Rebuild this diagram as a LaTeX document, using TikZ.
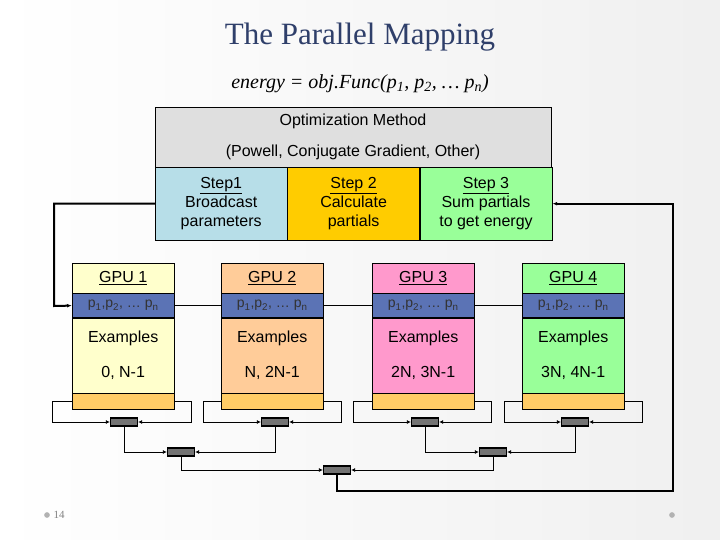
\documentclass[tikz,border=0pt]{standalone}
\usepackage{fontspec}
\setmainfont{Liberation Sans}
\newfontfamily\titlefont{Liberation Serif}
\usetikzlibrary{positioning,arrows.meta}
\definecolor{titleblue}{HTML}{2F3F6A}
\definecolor{stepblue}{HTML}{B7DEE8}
\definecolor{steporange}{HTML}{FFCC00}
\definecolor{stepgreen}{HTML}{99FF99}
\definecolor{parblue}{HTML}{5B73B5}
\definecolor{gpuyellow}{HTML}{FFFFCC}
\definecolor{gpuorange}{HTML}{FFCC99}
\definecolor{gpupink}{HTML}{FF99CC}
\definecolor{gpugreen}{HTML}{99FF99}
\definecolor{rowbottom}{HTML}{FFCC66}
\tikzset{cell/.style={draw,inner sep=0pt,align=center,font=\fontsize{16}{19}\selectfont},
         switch/.style={draw,very thick,fill=gray!90!black,minimum width=27pt,minimum height=8pt,inner sep=0pt},
         wire/.style={thick,-{Latex[length=4pt,width=4pt]}},
         bus/.style={line width=2pt},
         }
\newcommand{\plist}{p\textsubscript{1},p\textsubscript{2}, \dots\ p\textsubscript{n}}
\begin{document}
\begin{tikzpicture}[x=1pt,y=-1pt]
\useasboundingbox[left color=white,right color=gray!12] (0,0) rectangle (720,540);
\node[font=\titlefont\fontsize{31}{34}\selectfont,text=titleblue] (title) at (360,37) {The Parallel Mapping};
\node[font=\titlefont\itshape\fontsize{20}{22}\selectfont] (func) at (360,84)
  {energy = obj.Func(p\textsubscript{1}, p\textsubscript{2}, \dots\ p\textsubscript{n})};
% optimization method
\node[cell,fill=gray!25,minimum width=396pt,minimum height=60pt] (opt) at (353,137)
  {Optimization Method\\[12pt](Powell, Conjugate Gradient, Other)};
\node[cell,fill=stepblue,minimum width=132pt,minimum height=73pt,anchor=north west] (step1) at (155,167)
  {\underline{Step1}\\Broadcast\\parameters};
\node[cell,fill=steporange,minimum width=132pt,minimum height=73pt,right=0pt of step1] (step2)
  {\underline{Step 2}\\Calculate\\partials};
\node[cell,fill=stepgreen,minimum width=132pt,minimum height=73pt,right=0pt of step2] (step3)
  {\underline{Step 3}\\Sum partials\\to get energy};
% gpus
\foreach \i/\x/\col/\ex in {1/72/gpuyellow/{0, N-1},2/221/gpuorange/{N, 2N-1},3/372/gpupink/{2N, 3N-1},4/522/gpugreen/{3N, 4N-1}}{
  \node[cell,fill=\col,minimum width=102pt,minimum height=30pt,anchor=north west] (gpu\i) at (\x,263) {\underline{GPU \i}};
  \node[cell,fill=parblue,minimum width=102pt,minimum height=24pt,below=0pt of gpu\i,font=\fontsize{14}{16}\selectfont,text=black!80] (par\i) {\plist};
  \node[cell,fill=\col,minimum width=102pt,minimum height=75pt,below=0pt of par\i] (ex\i) {Examples\\[16pt]\ex};
  \node[cell,fill=rowbottom,minimum width=102pt,minimum height=16pt,below=0pt of ex\i] (bot\i) {};
}
% switches
\node[switch] (sw1) at (124,422) {};
\node[switch] (sw2) at (275,422) {};
\node[switch] (sw3) at (425,422) {};
\node[switch] (sw4) at (575,422) {};
\node[switch] (swA) at (181,452) {};
\node[switch] (swB) at (493,452) {};
\node[switch] (swC) at (337,470) {};
\foreach \i/\l/\r in {1/52/191,2/203/341,3/353/491,4/504/642}{
  \draw[wire] (bot\i.west) -| (\l,422) -- (sw\i.west);
  \draw[wire] (bot\i.east) -| (\r,422) -- (sw\i.east);
}
\draw[wire] (sw1.south) |- (swA.west);
\draw[wire] (sw2.south) |- (swA.east);
\draw[wire] (sw3.south) |- (swB.west);
\draw[wire] (sw4.south) |- (swB.east);
\draw[wire] (swA.south) |- (swC.west);
\draw[wire] (swB.south) |- (swC.east);
% buses
\coordinate (down) at (673,491);
\draw[bus,-{Latex[length=5pt]}] (swC.south) |- (down) |- (step3.east);
\draw[bus,-{Latex[length=5pt]}] (step1.west) -| (54,306) -- (par1.west);
\draw[thick] (par1.east) -- (par2.west) (par2.east) -- (par3.west) (par3.east) -- (par4.west);
% slide marks
\node[circle,fill=gray!60,inner sep=2pt] (dotl) at (47,515) {};
\node[right=0pt of dotl,font=\titlefont\fontsize{11}{12}\selectfont,text=gray] (page) {14};
\node[circle,fill=gray!60,inner sep=2pt] (dotr) at (672,515) {};
\end{tikzpicture}
\end{document}
